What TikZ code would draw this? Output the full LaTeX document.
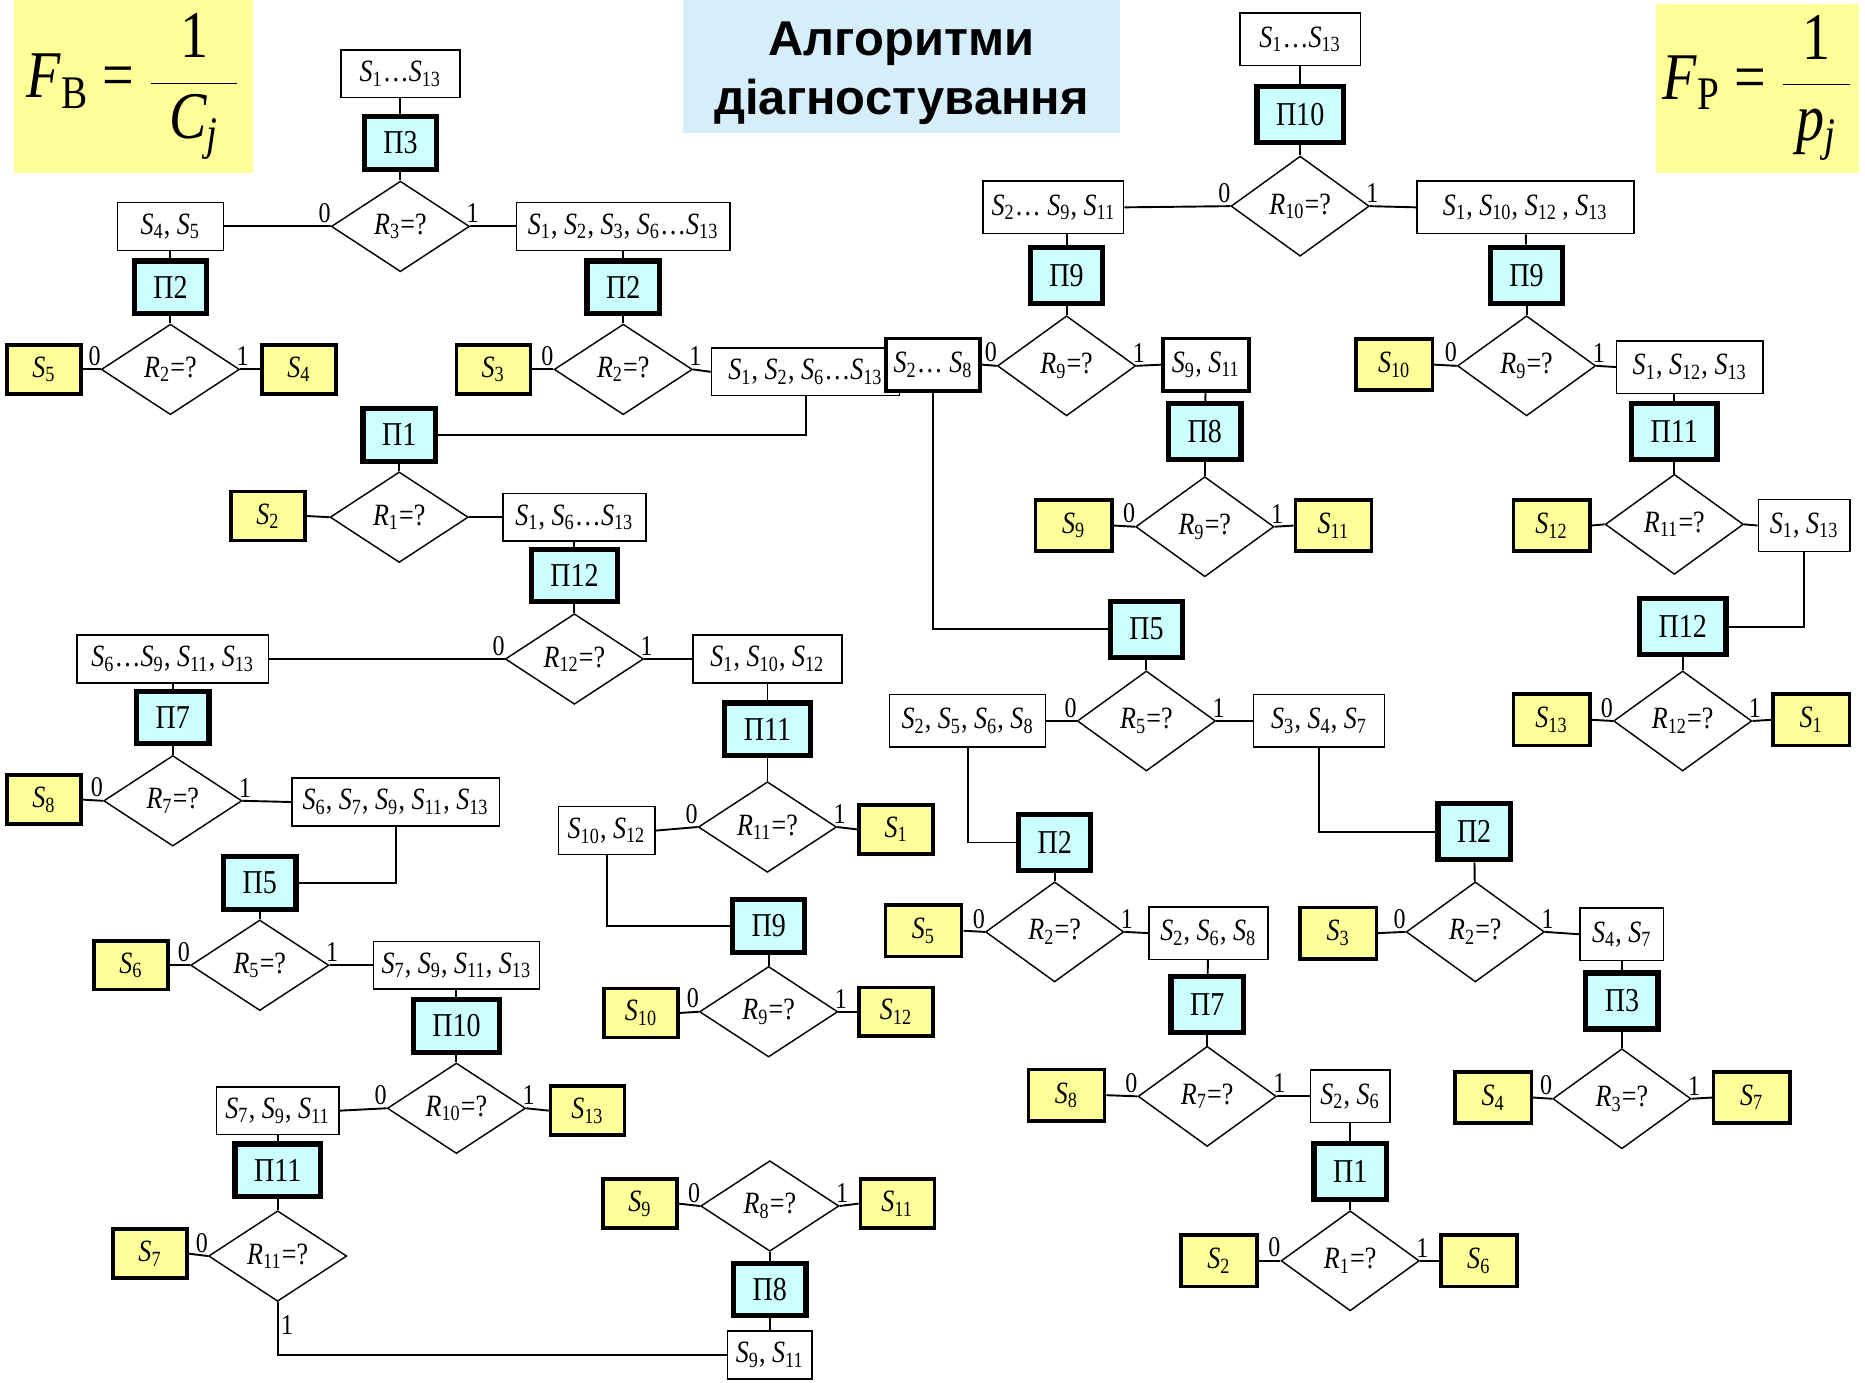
\documentclass[tikz,border=0pt]{standalone}
\usepackage{fontspec}
\setmainfont{Liberation Serif}[FakeStretch=0.84]
\newfontfamily\titlefont{Liberation Sans}
\usetikzlibrary{shapes}
\definecolor{lemon}{RGB}{255,255,153}
\definecolor{aqua}{RGB}{204,255,255}
\definecolor{sky}{RGB}{214,238,250}
\newcommand{\Sx}[1]{\textit{S}\textsubscript{#1}}
\newcommand{\Rq}[1]{\textit{R}\textsubscript{#1}=?}
\tikzstyle{group} = [rectangle, draw, line width=0.6pt, fill=white, minimum height=20pt, inner xsep=2pt, font=\fontsize{13}{15}\selectfont]
\tikzstyle{check} = [rectangle, draw, line width=2.2pt, fill=aqua, inner xsep=8pt, minimum height=22pt, font=\fontsize{14}{16}\selectfont]
\tikzstyle{query} = [diamond, draw, line width=0.6pt, fill=white, inner sep=0pt, aspect=1.5, minimum width=58pt, minimum height=38pt, font=\fontsize{13}{15}\selectfont]
\tikzstyle{fault} = [rectangle, draw, line width=1.5pt, fill=lemon, minimum width=31pt, minimum height=20.5pt, font=\fontsize{13}{15}\selectfont]
\tikzstyle{formula} = [rectangle, fill=lemon, inner sep=0pt, font=\fontsize{28}{32}\selectfont]
\tikzstyle{banner} = [rectangle, fill=sky, align=center, text height=44.5pt, font=\titlefont\bfseries\fontsize{20.5}{25}\selectfont]
\tikzstyle{bit} = [inner sep=1pt, anchor=south, font=\fontsize{12}{14}\selectfont]
\tikzstyle{nought} = [label={[bit, xshift=-2.5pt, yshift=0.3pt]west:0}]
\tikzstyle{bits} = [nought, label={[bit, xshift=1pt, yshift=0.3pt]east:1}]
\tikzstyle{line} = [draw, line width=0.8pt]

\begin{document}
\begin{tikzpicture}[x=0.5pt, y=-0.5pt]
  \useasboundingbox (0,0) rectangle (1565,1160.5);

  % formulas and title
  \node [formula, minimum width=100pt, minimum height=72.5pt] (fb) at (112,72.5)
    {\textit{F}\textsubscript{B} = $\displaystyle\frac{\makebox[36pt]{1}}{\mbox{\textit{C\textsubscript{j}}}}$};
  \node [formula, minimum width=85pt, minimum height=71pt] (fp) at (1475,74)
    {\textit{F}\textsubscript{P} = $\displaystyle\frac{\makebox[28pt]{1}}{\mbox{\textit{p\textsubscript{j}}}}$};
  \node [banner, minimum width=183.5pt, minimum height=56pt] (title) at (756.5,56) {Алгоритми\\діагностування};

  % left tree
  \node [group, minimum width=50pt] (sA) at (336,62) {\Sx{1}…\Sx{13}};
  \node [check] (p3) at (336,120) {П3};
  \node [query, bits] (r3) at (336,190) {\Rq{3}};
  \node [group, minimum width=44.5pt] (s45) at (143,190) {\Sx{4}, \Sx{5}};
  \node [group, minimum width=89.5pt] (s1236) at (523,190) {\Sx{1}, \Sx{2}, \Sx{3}, \Sx{6}…\Sx{13}};
  \node [check] (p2a) at (143,241) {П2};
  \node [query, bits] (r2a) at (143,310) {\Rq{2}};
  \node [fault] (y5a) at (37,310) {\Sx{5}};
  \node [fault] (y4a) at (251,310) {\Sx{4}};
  \node [check] (p2b) at (523,241) {П2};
  \node [query, bits] (r2b) at (523,310) {\Rq{2}};
  \node [fault] (y3a) at (414,310) {\Sx{3}};
  \node [group, minimum width=79pt] (s12613) at (676,312) {\Sx{1}, \Sx{2}, \Sx{6}…\Sx{13}};
  \node [check] (p1a) at (335,365) {П1};
  \node [query] (r1a) at (335,434) {\Rq{1}};
  \node [fault] (y2a) at (225,433) {\Sx{2}};
  \node [group, minimum width=60pt] (s1613) at (482,434) {\Sx{1}, \Sx{6}…\Sx{13}};
  \node [check] (p12a) at (482,483) {П12};
  \node [query, bits] (r12a) at (482,553) {\Rq{12}};
  \node [group, minimum width=80.5pt] (s6to13) at (145,553) {\Sx{6}…\Sx{9}, \Sx{11}, \Sx{13}};
  \node [group, minimum width=62.5pt] (s11012) at (644,553) {\Sx{1}, \Sx{10}, \Sx{12}};
  \node [check] (p7a) at (145,602) {П7};
  \node [query, bits] (r7a) at (145,672) {\Rq{7}};
  \node [fault] (y8a) at (37,671) {\Sx{8}};
  \node [group, minimum width=87pt] (s67) at (332,673) {\Sx{6}, \Sx{7}, \Sx{9}, \Sx{11}, \Sx{13}};
  \node [check] (p5a) at (218,741) {П5};
  \node [query, bits] (r5a) at (218,810) {\Rq{5}};
  \node [fault] (y6a) at (110,810) {\Sx{6}};
  \node [group, minimum width=69.5pt] (s7913) at (383,810) {\Sx{7}, \Sx{9}, \Sx{11}, \Sx{13}};
  \node [check] (p10a) at (383,861) {П10};
  \node [query, bits] (r10a) at (383,930) {\Rq{10}};
  \node [group, minimum width=51.5pt] (s7911) at (233,932) {\Sx{7}, \Sx{9}, \Sx{11}};
  \node [fault] (y13a) at (493,932) {\Sx{13}};
  \node [check] (p11a) at (233,982) {П11};
  \node [query, nought] (r11a) at (233,1054) {\Rq{11}};
  \node [fault] (y7a) at (126,1052) {\Sx{7}};
  \node [group, minimum width=35.5pt] (s911b) at (646,1137) {\Sx{9}, \Sx{11}};
  \node [check] (p8a) at (646,1082) {П8};
  \node [query, bits] (r8a) at (646,1012) {\Rq{8}};
  \node [fault] (y9a) at (537,1010) {\Sx{9}};
  \node [fault] (y11a) at (753,1010) {\Sx{11}};
  \node [check] (p11b) at (644,612) {П11};
  \node [query, bits] (r11b) at (644,694) {\Rq{11}};
  \node [group, minimum width=40.5pt] (s1012) at (509,697) {\Sx{10}, \Sx{12}};
  \node [fault] (y1a) at (752,696) {\Sx{1}};
  \node [check] (p9a) at (645,777) {П9};
  \node [query, bits] (r9a) at (645,849) {\Rq{9}};
  \node [fault] (y10a) at (538,850) {\Sx{10}};
  \node [fault] (y12a) at (752,849) {\Sx{12}};

  \path [line] (sA) -- (p3);
  \path [line] (p3) -- (r3);
  \path [line] (r3.west) -- (s45.east);
  \path [line] (r3.east) -- (s1236.west);
  \path [line] (s45) -- (p2a);
  \path [line] (p2a) -- (r2a);
  \path [line] (r2a.west) -- (y5a.east);
  \path [line] (r2a.east) -- (y4a.west);
  \path [line] (s1236) -- (p2b);
  \path [line] (p2b) -- (r2b);
  \path [line] (r2b.west) -- (y3a.east);
  \path [line] (r2b.east) -- (s12613.west);
  \path [line] (s12613.south) |- (p1a.east);
  \path [line] (p1a) -- (r1a);
  \path [line] (r1a.west) -- (y2a.east);
  \path [line] (r1a.east) -- (s1613.west);
  \path [line] (s1613) -- (p12a);
  \path [line] (p12a) -- (r12a);
  \path [line] (r12a.west) -- (s6to13.east);
  \path [line] (r12a.east) -- (s11012.west);
  \path [line] (s6to13) -- (p7a);
  \path [line] (p7a) -- (r7a);
  \path [line] (r7a.west) -- (y8a.east);
  \path [line] (r7a.east) -- (s67.west);
  \path [line] (s67.south) |- (p5a.east);
  \path [line] (p5a) -- (r5a);
  \path [line] (r5a.west) -- (y6a.east);
  \path [line] (r5a.east) -- (s7913.west);
  \path [line] (s7913) -- (p10a);
  \path [line] (p10a) -- (r10a);
  \path [line] (r10a.west) -- (s7911.east);
  \path [line] (r10a.east) -- (y13a.west);
  \path [line] (s7911) -- (p11a);
  \path [line] (p11a) -- (r11a);
  \path [line] (r11a.west) -- (y7a.east);
  \path [line] (r11a.south) |- node [bit, pos=0.22, anchor=west] (one11) {1} (s911b.west);
  \path [line] (s911b) -- (p8a);
  \path [line] (p8a) -- (r8a);
  \path [line] (r8a.west) -- (y9a.east);
  \path [line] (r8a.east) -- (y11a.west);
  \path [line] (s11012) -- (p11b);
  \path [line] (p11b) -- (r11b);
  \path [line] (r11b.west) -- (s1012.east);
  \path [line] (r11b.east) -- (y1a.west);
  \path [line] (s1012.south) |- (p9a.west);
  \path [line] (p9a) -- (r9a);
  \path [line] (r9a.west) -- (y10a.east);
  \path [line] (r9a.east) -- (y12a.west);

  % right tree
  \begin{scope}[query/.append style={minimum height=42pt},
      group/.append style={minimum height=22pt},
      check/.append style={minimum height=23.5pt},
      fault/.append style={minimum width=32pt, minimum height=21.5pt}]
  \node [group, minimum width=50.5pt] (sB) at (1091,33) {\Sx{1}…\Sx{13}};
  \node [check] (p10b) at (1091,96) {П10};
  \node [query, bits] (r10b) at (1091,173) {\Rq{10}};
  \node [group, minimum width=59pt] (s2911) at (884,174) {\Sx{2}… \Sx{9}, \Sx{11}};
  \node [group, minimum width=91pt] (s1101213) at (1280,174) {\Sx{1}, \Sx{10}, \Sx{12}\,, \Sx{13}};
  \node [check] (p9b) at (895,231) {П9};
  \node [query, bits] (r9b) at (895,307) {\Rq{9}};
  \node [group, line width=1.5pt, minimum width=39.5pt] (s2to8) at (783,306) {\Sx{2}… \Sx{8}};
  \node [group, line width=1.5pt, minimum width=36pt] (s911t) at (1012,306) {\Sx{9}, \Sx{11}};
  \node [check] (p8b) at (1011,362) {П8};
  \node [query, bits] (r9c) at (1011,442) {\Rq{9}};
  \node [fault] (y9b) at (901,441) {\Sx{9}};
  \node [fault] (y11b) at (1119,441) {\Sx{11}};
  \node [check] (p5b) at (962,528) {П5};
  \node [query, bits] (r5b) at (962,605) {\Rq{5}};
  \node [group, minimum width=65.5pt] (s2568) at (812,605) {\Sx{2}, \Sx{5}, \Sx{6}, \Sx{8}};
  \node [group, minimum width=55pt] (s347) at (1107,605) {\Sx{3}, \Sx{4}, \Sx{7}};
  \node [check] (p2c) at (885,707) {П2};
  \node [query, bits] (r2c) at (885,782) {\Rq{2}};
  \node [fault] (y5b) at (775,781) {\Sx{5}};
  \node [group, minimum width=50pt] (s268) at (1014,783) {\Sx{2}, \Sx{6}, \Sx{8}};
  \node [check] (p7b) at (1013,843) {П7};
  \node [query, bits] (r7b) at (1013,920) {\Rq{7}};
  \node [fault] (y8b) at (895,919) {\Sx{8}};
  \node [group, minimum width=33.5pt] (s26) at (1133,920) {\Sx{2}, \Sx{6}};
  \node [check] (p1b) at (1133,983) {П1};
  \node [query, bits] (r1b) at (1133,1058) {\Rq{1}};
  \node [fault] (y2b) at (1023,1058) {\Sx{2}};
  \node [fault] (y6b) at (1241,1058) {\Sx{6}};
  \node [check] (p2d) at (1237,698) {П2};
  \node [query, bits] (r2d) at (1238,782) {\Rq{2}};
  \node [fault] (y3b) at (1123,783) {\Sx{3}};
  \node [group, minimum width=35pt] (s47) at (1361,784) {\Sx{4}, \Sx{7}};
  \node [check] (p3b) at (1361,840) {П3};
  \node [query, bits] (r3b) at (1361,922) {\Rq{3}};
  \node [fault] (y4b) at (1253,921) {\Sx{4}};
  \node [fault] (y7b) at (1470,921) {\Sx{7}};
  \node [check] (p9c) at (1281,231) {П9};
  \node [query, bits] (r9d) at (1281,307) {\Rq{9}};
  \node [fault] (y10b) at (1170,306) {\Sx{10}};
  \node [group, minimum width=61.5pt] (s1213) at (1418,308) {\Sx{1}, \Sx{12}, \Sx{13}};
  \node [check] (p11c) at (1405,362) {П11};
  \node [query] (r11c) at (1405,440) {\Rq{11}};
  \node [fault] (y12b) at (1302,441) {\Sx{12}};
  \node [group, minimum width=38.5pt] (s113) at (1514,441) {\Sx{1}, \Sx{13}};
  \node [check] (p12b) at (1412,526) {П12};
  \node [query, bits] (r12b) at (1412,605) {\Rq{12}};
  \node [fault] (y13b) at (1302,604) {\Sx{13}};
  \node [fault] (y1b) at (1520,604) {\Sx{1}};
  \end{scope}

  \path [line] (sB) -- (p10b);
  \path [line] (p10b) -- (r10b);
  \path [line] (r10b.west) -- (s2911.east);
  \path [line] (r10b.east) -- (s1101213.west);
  \path [line] (p9b.north |- s2911.south) -- (p9b.north);
  \path [line] (p9b) -- (r9b);
  \path [line] (r9b.west) -- (s2to8.east);
  \path [line] (r9b.east) -- (s911t.west);
  \path [line] (s911t) -- (p8b);
  \path [line] (p8b) -- (r9c);
  \path [line] (r9c.west) -- (y9b.east);
  \path [line] (r9c.east) -- (y11b.west);
  \path [line] (s2to8.south) |- (p5b.west);
  \path [line] (p5b) -- (r5b);
  \path [line] (r5b.west) -- (s2568.east);
  \path [line] (r5b.east) -- (s347.west);
  \path [line] (s2568.south) |- (p2c.west);
  \path [line] (p2c) -- (r2c);
  \path [line] (r2c.west) -- (y5b.east);
  \path [line] (r2c.east) -- (s268.west);
  \path [line] (s268) -- (p7b);
  \path [line] (p7b) -- (r7b);
  \path [line] (r7b.west) -- (y8b.east);
  \path [line] (r7b.east) -- (s26.west);
  \path [line] (s26) -- (p1b);
  \path [line] (p1b) -- (r1b);
  \path [line] (r1b.west) -- (y2b.east);
  \path [line] (r1b.east) -- (y6b.west);
  \path [line] (s347.south) |- (p2d.west);
  \path [line] (p2d) -- (r2d);
  \path [line] (r2d.west) -- (y3b.east);
  \path [line] (r2d.east) -- (s47.west);
  \path [line] (s47) -- (p3b);
  \path [line] (p3b) -- (r3b);
  \path [line] (r3b.west) -- (y4b.east);
  \path [line] (r3b.east) -- (y7b.west);
  \path [line] (s1101213) -- (p9c);
  \path [line] (p9c) -- (r9d);
  \path [line] (r9d.west) -- (y10b.east);
  \path [line] (r9d.east) -- (s1213.west);
  \path [line] (p11c.north |- s1213.south) -- (p11c.north);
  \path [line] (p11c) -- (r11c);
  \path [line] (r11c.west) -- (y12b.east);
  \path [line] (r11c.east) -- (s113.west);
  \path [line] (s113.south) |- (p12b.east);
  \path [line] (p12b) -- (r12b);
  \path [line] (r12b.west) -- (y13b.east);
  \path [line] (r12b.east) -- (y1b.west);
\end{tikzpicture}
\end{document}
